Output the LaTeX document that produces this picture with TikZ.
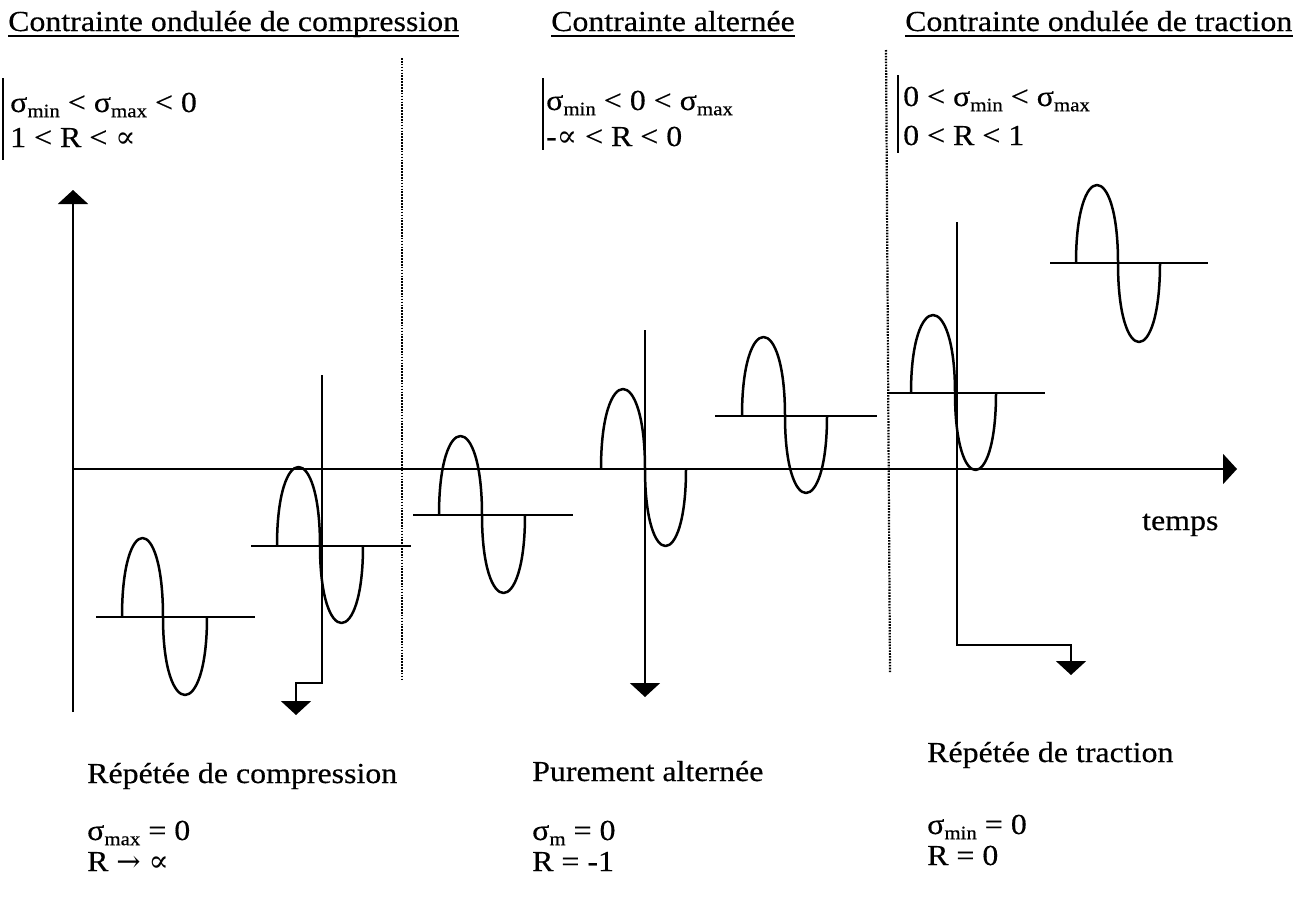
\documentclass[tikz,border=0pt]{standalone}
\usepackage{fontspec}
\setmainfont{Liberation Serif}[FakeStretch=1.1,FakeBold=0.4]
\newfontfamily\symf{DejaVu Serif}
\usetikzlibrary{arrows.meta}
\newcommand\lo[1]{\raisebox{-0.18em}{\fontsize{19}{19}\selectfont #1}}
\newcommand\prop{{\symf\fontsize{30}{30}\selectfont ∝}}
\newcommand\rarr{{\symf\fontsize{29}{29}\selectfont →}}
\newcommand\wave[6]{%
  \draw[wv] (#1,#2) .. controls (#1,{#2+4/3*(#4-#2)}) and (#3,{#2+4/3*(#4-#2)}) .. (#3,#2)
     .. controls (#3,{#2+4/3*(#6-#2)}) and (#5,{#2+4/3*(#6-#2)}) .. (#5,#2);}
\tikzset{
  ln/.style={line width=2pt},
  wv/.style={line width=2.5pt, line join=round},
  dotl/.style={line width=2.2pt, dash pattern=on 1.6pt off 1.3pt},
  txt/.style={anchor=base west, inner sep=0pt, font=\fontsize{29}{34}\selectfont},
  head/.style={-{Triangle[width=30pt,length=14pt]}},
  uline/.style={line width=1.6pt},
}
\begin{document}
\begin{tikzpicture}[x=1pt,y=-1pt]
\fill[white] (0,0) rectangle (1311,908);
\useasboundingbox (0,0) rectangle (1311,908);

% titles
\node[txt] (t1) at (8,31) {Contrainte ondulée de compression};
\node[txt] (t2) at (551,31) {Contrainte alternée};
\node[txt] (t3) at (905,31) {Contrainte ondulée de traction};
\foreach \t in {t1,t2,t3}
  \draw[uline] ([yshift=-5pt]\t.base west) -- ([yshift=-5pt]\t.base east);

% callouts
\draw[ln] (3,78) -- (3,160);
\node[txt] (c1a) at (10,112) {σ\lo{min} < σ\lo{max} < 0};
\node[txt] (c1b) at (10,147) {1 < R < \prop};
\draw[ln] (543,78) -- (543,150);
\node[txt] (c2a) at (546,110) {σ\lo{min} < 0 < σ\lo{max}};
\node[txt] (c2b) at (546,146) {-\prop{} < R < 0};
\draw[ln] (898,75) -- (898,153);
\node[txt] (c3a) at (903,106) {0 < σ\lo{min} < σ\lo{max}};
\node[txt] (c3b) at (903,145) {0 < R < 1};

% dotted separators
\coordinate (d1t) at (402,58);  \coordinate (d1b) at (402,680);
\coordinate (d2t) at (886,50);  \coordinate (d2b) at (890,672);
\draw[dotl] (d1t) -- (d1b);
\draw[dotl] (d2t) -- (d2b);

% main axes
\coordinate (ybot) at (73,712);
\coordinate (ytop) at (73,190);
\coordinate (o) at (73,469);
\coordinate (xend) at (1237,469);
\draw[ln,head] (ybot) -- (ytop);
\draw[ln,head] (o) -- (xend);
\node[txt] (temps) at (1142,530) {temps};

% secondary axes
\coordinate (a2t) at (322,375); \coordinate (a2b) at (322,683);
\coordinate (a2c) at (296,683); \coordinate (a2e) at (296,715);
\draw[ln,head] (a2t) -- (a2b) -- (a2c) -- (a2e);
\coordinate (a3t) at (645,330); \coordinate (a3e) at (645,697);
\draw[ln,head] (a3t) -- (a3e);
\coordinate (a4t) at (957,222); \coordinate (a4b) at (957,645);
\coordinate (a4c) at (1071,645); \coordinate (a4e) at (1071,675);
\draw[ln,head] (a4t) -- (a4b) -- (a4c) -- (a4e);

% mean lines
\draw[ln] (96,617) -- (255,617);
\draw[ln] (251,546) -- (411,546);
\draw[ln] (413,515) -- (573,515);
\draw[ln] (577,469) -- (737,469);
\draw[ln] (715,416) -- (877,416);
\draw[ln] (887,393) -- (1045,393);
\draw[ln] (1050,263) -- (1208,263);

% waves: x0, mean, xcross, peak y, xend, trough y
\wave{122}{617}{163}{538}{207}{695}
\wave{277}{546}{320}{467}{363}{623}
\wave{439}{515}{482}{436}{525}{593}
\wave{601}{469}{645}{389}{686}{546}
\wave{742}{416}{785}{337}{827}{493}
\wave{911}{393}{955}{315}{996}{470}
\wave{1076}{263}{1118}{185}{1160}{342}

% bottom labels
\node[txt] (b1) at (87,783) {Répétée de compression};
\node[txt] (b1a) at (87,840) {σ\lo{max} = 0};
\node[txt] (b1b) at (87,871) {R \rarr{} \prop};
\node[txt] (b2) at (532,781) {Purement alternée};
\node[txt] (b2a) at (532,840) {σ\lo{m} = 0};
\node[txt] (b2b) at (532,871) {R = -1};
\node[txt] (b3) at (927,762) {Répétée de traction};
\node[txt] (b3a) at (927,834) {σ\lo{min} = 0};
\node[txt] (b3b) at (927,865) {R = 0};
\end{tikzpicture}
\end{document}
